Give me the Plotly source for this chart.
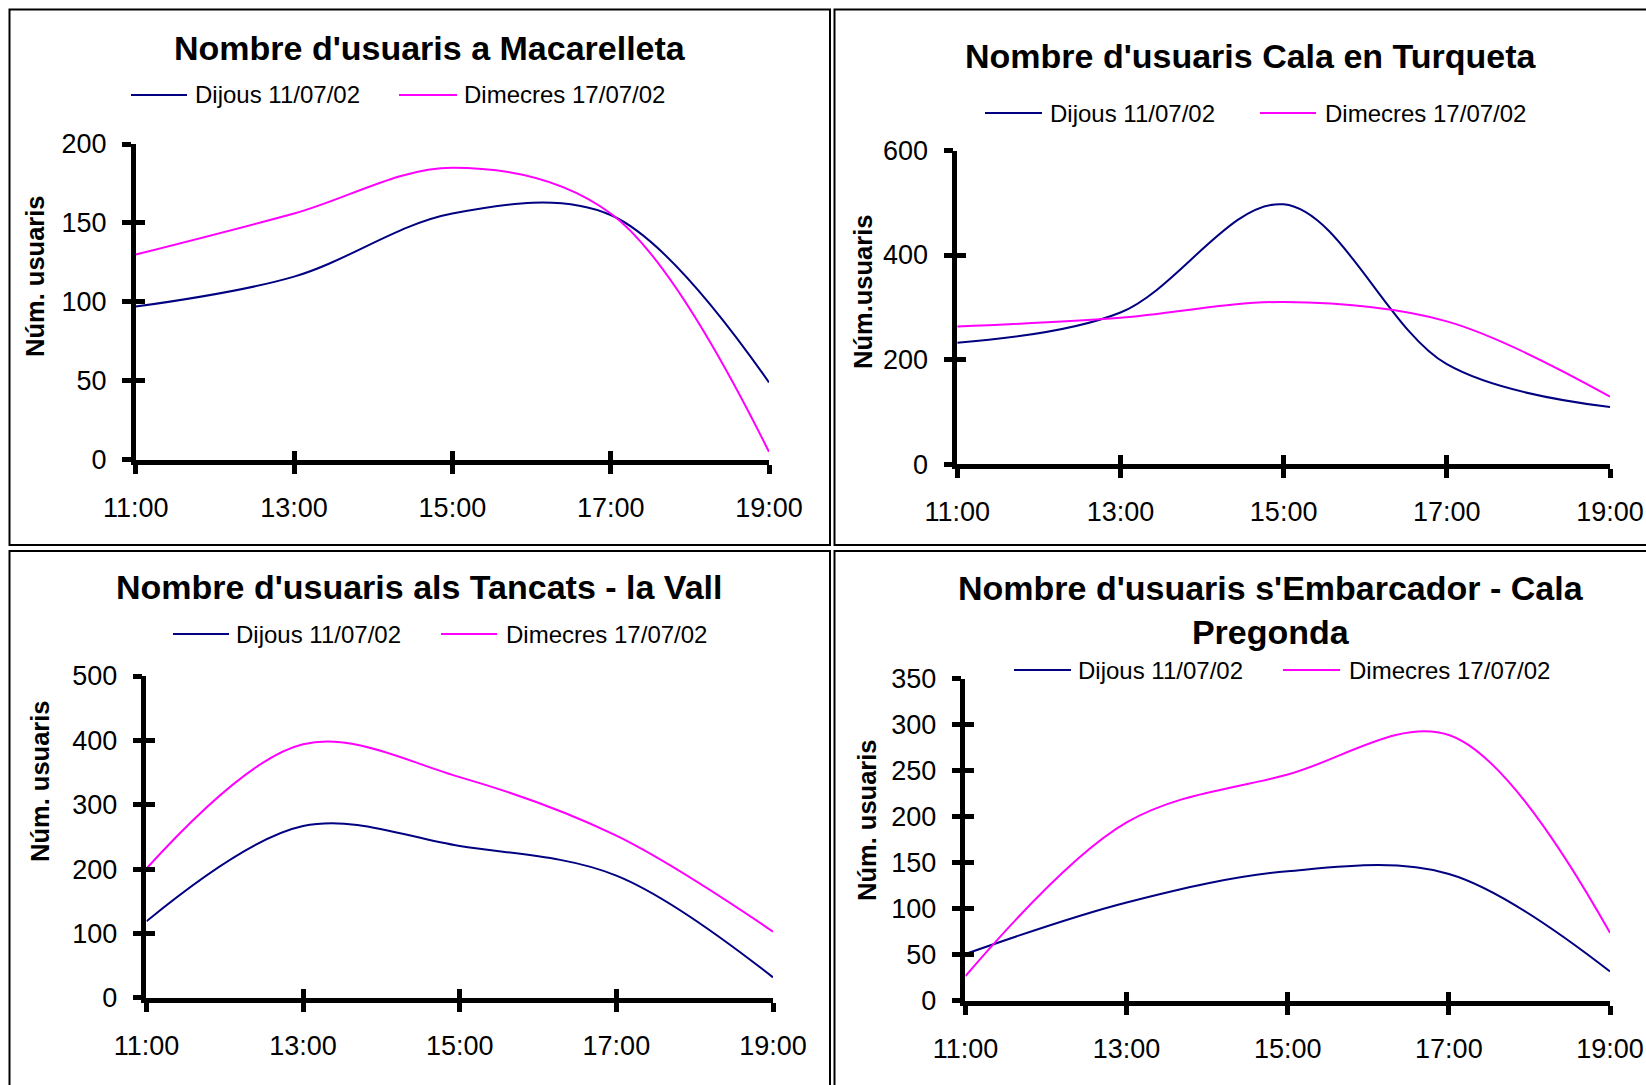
import plotly.graph_objects as go

W, H = 1646, 1085

hours = ["11:00", "13:00", "15:00", "17:00", "19:00"]
series_names = ["Dijous 11/07/02", "Dimecres 17/07/02"]

mac_dijous = [97, 116, 156, 155, 49]
mac_dimecres = [130, 156, 185, 156, 5]
tur_dijous = [232, 290, 497, 191, 109]
tur_dimecres = [263, 280, 310, 273, 129]
tan_dijous = [119, 267, 236, 190, 32]
tan_dimecres = [201, 394, 343, 252, 103]
emb_dijous = [51, 107, 141, 138, 32]
emb_dimecres = [27, 194, 246, 289, 74]

titles = [
    "Nombre d'usuaris a Macarelleta",
    "Nombre d'usuaris Cala en Turqueta",
    "Nombre d'usuaris als Tancats - la Vall",
    "Nombre d'usuaris s'Embarcador - Cala<br>Pregonda",
]
ytitles = ["Núm. usuaris", "Núm.usuaris", "Núm. usuaris", "Núm. usuaris"]
yranges = [(0, 200, 50), (0, 600, 200), (0, 500, 100), (0, 350, 50)]
data = [
    (mac_dijous, mac_dimecres),
    (tur_dijous, tur_dimecres),
    (tan_dijous, tan_dimecres),
    (emb_dijous, emb_dimecres),
]

BLUE = "#000080"
PINK = "#FF00FF"
LW = 4.5


def px(x):
    return x / W


def py(y):
    return 1 - y / H


# layout geometry in pixels (axis-line centres)
panels = [
    dict(ax=(133.5, 769), ay=(462, 144), title=(430, 48), ytl=(35, 276),
         leg=dict(y=95, l1=(131, 187), t1=193, l2=(399, 457), t2=462)),
    dict(ax=(955, 1610), ay=(466.3, 150.5), title=(1251, 56), ytl=(863, 292),
         leg=dict(y=113, l1=(985, 1042), t1=1048, l2=(1260, 1316), t2=1323)),
    dict(ax=(144.2, 773), ay=(1000.2, 676), title=(419, 587), ytl=(40, 781),
         leg=dict(y=634, l1=(173, 229), t1=234, l2=(441, 497), t2=504)),
    dict(ax=(963.2, 1610), ay=(1003.2, 678.8), title=(1271, 610), ytl=(867, 820),
         leg=dict(y=670, l1=(1014, 1071), t1=1076, l2=(1283, 1340), t2=1347)),
]
borders = [
    (9.5, 9.5, 830, 545),
    (834.5, 9.5, 1660, 545),
    (9.5, 551, 830, 1100),
    (834.5, 551, 1660, 1100),
]

fig = go.Figure()
layout = dict(
    width=W, height=H, margin=dict(l=0, r=0, t=0, b=0, autoexpand=False),
    paper_bgcolor="white", plot_bgcolor="white", showlegend=False,
    font=dict(family="Liberation Sans, Arial, sans-serif", color="black"),
)
shapes = []
annotations = []

tickfont = dict(family="Liberation Sans, Arial, sans-serif", size=27, color="black")

for i, p in enumerate(panels):
    n = i + 1
    ov = i + 5
    xs = "" if n == 1 else str(n)
    ys = xs
    dj, dm = data[i]
    for vals, col, name in ((dj, BLUE, series_names[0]), (dm, PINK, series_names[1])):
        fig.add_trace(go.Scatter(
            x=hours, y=vals, mode="lines", name=name,
            line=dict(color=col, width=2, shape="spline", smoothing=1.0),
            xaxis="x" + xs, yaxis="y" + ys, hoverinfo="skip",
        ))
    # dummy trace for overlay axes (inside ticks)
    fig.add_trace(go.Scatter(x=[], y=[], xaxis="x%d" % ov, yaxis="y%d" % ov,
                             showlegend=False, hoverinfo="skip"))
    x0, x1 = p["ax"]
    yb, yt = p["ay"]
    x0 = x0 + LW / 2
    yb = yb - LW / 2
    lo, hi, dt = yranges[i]
    common = dict(showline=True, linecolor="black", linewidth=LW,
                  ticklen=9, tickwidth=LW, tickcolor="black",
                  showgrid=False, zeroline=False, fixedrange=True,
                  automargin=False)
    layout["xaxis" + xs] = dict(
        domain=[px(x0), px(x1)], anchor="y" + ys, type="category",
        range=[0, len(hours) - 1], ticks="outside", tickfont=tickfont,
        ticklabelstandoff=11, **common)
    layout["yaxis" + ys] = dict(
        domain=[py(yb), py(yt)], anchor="x" + xs, range=[lo, hi], dtick=dt,
        tick0=lo, ticks="outside", tickfont=tickfont, ticklabelstandoff=10,
        **common)
    layout["xaxis%d" % ov] = dict(
        overlaying="x" + xs, anchor="y" + ys, type="linear",
        range=[0, len(hours) - 1], tickmode="array",
        tickvals=list(range(len(hours))), ticks="inside",
        showticklabels=False, **common)
    layout["yaxis%d" % ov] = dict(
        overlaying="y" + ys, anchor="x" + xs, range=[lo, hi], dtick=dt,
        tick0=lo, ticks="inside", showticklabels=False, **common)

    # title
    annotations.append(dict(
        text="<b>%s</b>" % titles[i], x=px(p["title"][0]), y=py(p["title"][1]),
        xref="paper", yref="paper", showarrow=False, xanchor="center",
        yanchor="middle", font=dict(size=34, color="black")))
    # y axis title
    annotations.append(dict(
        text="<b>%s</b>" % ytitles[i], x=px(p["ytl"][0]), y=py(p["ytl"][1]),
        xref="paper", yref="paper", showarrow=False, textangle=-90,
        xanchor="center", yanchor="middle", font=dict(size=25.5, color="black")))
    # legend
    lg = p["leg"]
    for (la, lb), tx, col, name in ((lg["l1"], lg["t1"], BLUE, series_names[0]),
                                    (lg["l2"], lg["t2"], PINK, series_names[1])):
        shapes.append(dict(type="line", xref="paper", yref="paper",
                           x0=px(la), x1=px(lb), y0=py(lg["y"]), y1=py(lg["y"]),
                           line=dict(color=col, width=2)))
        annotations.append(dict(
            text=name, x=px(tx), y=py(lg["y"]), xref="paper", yref="paper",
            showarrow=False, xanchor="left", yanchor="middle",
            font=dict(size=24, color="black")))

for (bx0, by0, bx1, by1) in borders:
    shapes.append(dict(type="rect", xref="paper", yref="paper",
                       x0=px(bx0), x1=px(bx1), y0=py(by1), y1=py(by0),
                       line=dict(color="black", width=2), layer="below"))

layout["shapes"] = shapes
layout["annotations"] = annotations
fig.update_layout(**layout)
fig.write_html(
    "out.html",
    config={"displayModeBar": False},
    post_script="document.body.style.margin='0';document.body.style.overflow='hidden';",
)
